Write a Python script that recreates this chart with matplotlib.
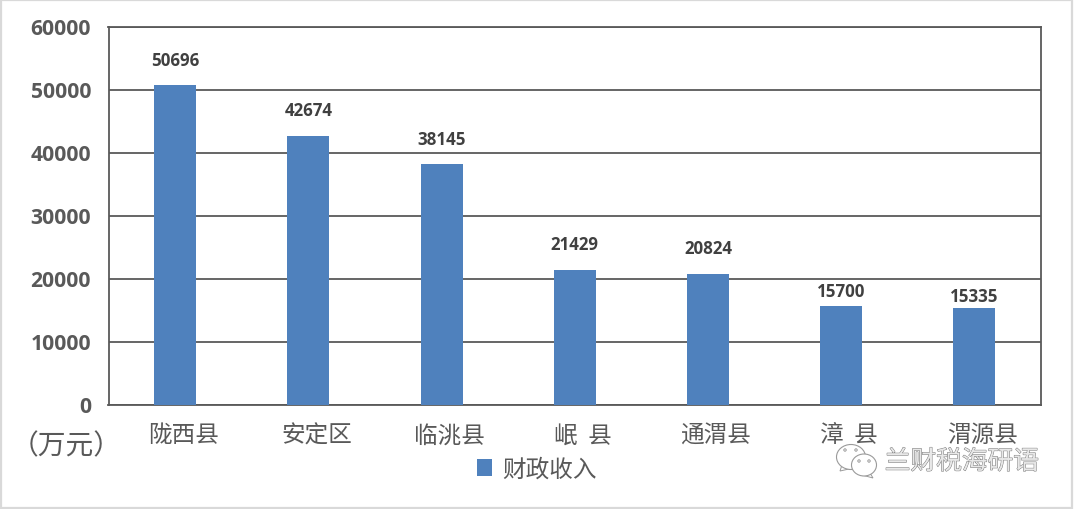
import matplotlib
matplotlib.use('Agg')
import matplotlib.pyplot as plt
import matplotlib.patches as mpatches
import matplotlib.patheffects as pe
from matplotlib.transforms import ScaledTranslation

plt.rcParams['font.family'] = ['Noto Sans CJK SC', 'DejaVu Sans']

counties = ['陇西县', '安定区', '临洮县', '岷  县', '通渭县', '漳  县', '渭源县']
revenue = [50696, 42674, 38145, 21429, 20824, 15700, 15335]
y_ticks = [0, 10000, 20000, 30000, 40000, 50000, 60000]
series_name = '财政收入'
unit_label = '（万元）'
watermark = '兰财税海研语'

W, H = 1074, 510
BLUE = '#4F81BD'
GREY = '#595959'

# label gap above each bar, in points (the original labels were placed by hand)
label_gaps = [18, 18.7, 18, 18.5, 18.5, 10.5, 8.5]

fig = plt.figure(figsize=(W / 100, H / 100), dpi=100, facecolor='white')
ax = fig.add_axes([108.5 / W, 1 - 405.7 / H, 932.5 / W, 378 / H])

bars = ax.bar(range(len(counties)), revenue, width=0.315, color=BLUE, zorder=3, label=series_name)
ax.set_xlim(-0.5, len(counties) - 0.5)
ax.set_ylim(0, 60000)
ax.set_yticks(y_ticks)
ax.set_xticks(range(len(counties)))
ax.set_xticklabels(counties, fontsize=17, color=GREY)
ax.tick_params(axis='x', length=0, pad=13.5)
ax.tick_params(axis='y', length=0, pad=12.5)
# the category labels sit a little right of the bars in the original
shift = ScaledTranslation(8 / 100, 0, fig.dpi_scale_trans)
for t in ax.get_xticklabels():
    t.set_transform(t.get_transform() + shift)
lift = ScaledTranslation(0, 1 / 100, fig.dpi_scale_trans)
for t in ax.get_yticklabels():
    t.set_fontfamily('Open Sans')
    t.set_fontweight('bold')
    t.set_fontsize(15.2)
    t.set_color(GREY)
    t.set_transform(t.get_transform() + lift)

ax.grid(axis='y', color=GREY, linewidth=1.3, zorder=1)
for s in ax.spines.values():
    s.set_color(GREY)
    s.set_linewidth(1.3)

for i, v in enumerate(revenue):
    ax.annotate(str(v), (i, v), xytext=(0, label_gaps[i]), textcoords='offset points',
                ha='center', va='center', fontsize=12.2, fontweight='bold',
                family='Open Sans', color='#404040', zorder=4)

fig.legend(handles=[bars], labels=[series_name], loc='center', frameon=False,
           bbox_to_anchor=(537 / W, 1 - 470 / H), fontsize=17, labelcolor=GREY,
           handlelength=0.64, handleheight=0.75, handletextpad=0.42)

# overlay in pixel coordinates for the frame, unit text and watermark
over = fig.add_axes([0, 0, 1, 1], zorder=5)
over.set_xlim(0, W)
over.set_ylim(H, 0)
over.axis('off')
over.patch.set_alpha(0)
over.add_patch(mpatches.Rectangle((1, 1), W - 3, H - 2, fill=False, edgecolor='#D9D9D9', linewidth=1.6))
over.text(66, 446, unit_label, fontsize=20, color=GREY, ha='center', va='center')

# wechat style icon
for cx, cy, w, h, tail in [(851, 458, 29, 25, [(842, 466), (840, 472), (849, 470)]),
                           (864, 466, 25, 22, [(870, 474), (873, 479), (862, 476)])]:
    over.add_patch(mpatches.Polygon(tail, facecolor='white', edgecolor='#9A9A9A', linewidth=0.7))
    over.add_patch(mpatches.Ellipse((cx, cy), w, h, facecolor='white', edgecolor='#9A9A9A', linewidth=0.8))
for ex, ey in [(845, 451), (856, 451), (859, 462), (869, 462)]:
    over.add_patch(mpatches.Circle((ex, ey), 1.2, facecolor='white', edgecolor='#8A8A8A', linewidth=0.6))

over.text(962, 463, watermark, fontsize=18.5, color='#E8E8E8', ha='center', va='center', fontweight='light',
          path_effects=[pe.withStroke(linewidth=0.7, foreground='#7A7A7A')])

fig.savefig('out.png', dpi=100)
